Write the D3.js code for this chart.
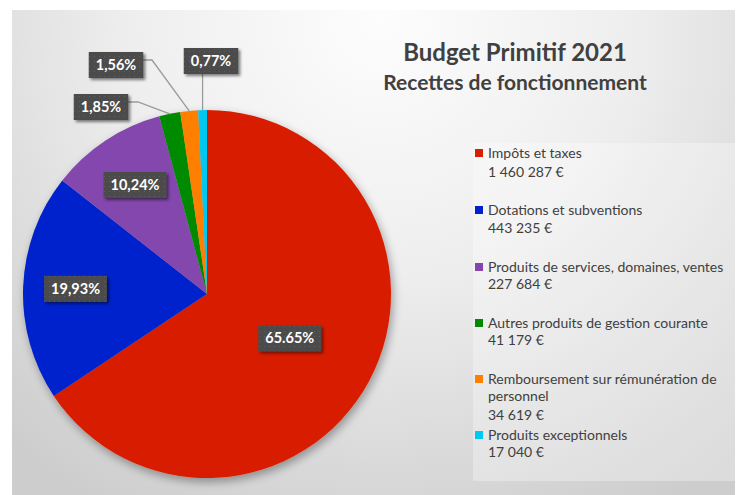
<!DOCTYPE html>
<html>
<head>
<meta charset="utf-8">
<script src="https://cdn.jsdelivr.net/npm/d3@7"></script>
<style>
  body { margin: 0; background: #fff; }
  svg { display: block; font-family: Lato, "Open Sans", sans-serif; }
</style>
</head>
<body>
<svg id="chart" width="739" height="495"></svg>
<script>
// data
var categories = ["Impôts et taxes", "Dotations et subventions", "Produits de services, domaines, ventes",
                  "Autres produits de gestion courante", "Remboursement sur rémunération de personnel",
                  "Produits exceptionnels"];
var amounts = [1460287, 443235, 227684, 41179, 34619, 17040];
var amountLabels = ["1 460 287 €", "443 235 €", "227 684 €", "41 179 €", "34 619 €", "17 040 €"];
var pctLabels = ["65.65%", "19,93%", "10,24%", "1,85%", "1,56%", "0,77%"];
var colors = ["#d81f00", "#0022cc", "#8446ad", "#008a00", "#ff7f00", "#00c8f0"];

var width = 739, height = 495;
var cx = 207, cy = 294, radius = 184;

var svg = d3.select("#chart");
var defs = svg.append("defs");

// background gradient
var bg = defs.append("radialGradient").attr("id", "bg")
    .attr("gradientUnits", "userSpaceOnUse")
    .attr("cx", 380).attr("cy", 20).attr("r", 560);
bg.append("stop").attr("offset", "0%").attr("stop-color", "#fdfdfd");
bg.append("stop").attr("offset", "45%").attr("stop-color", "#eeeeee");
bg.append("stop").attr("offset", "100%").attr("stop-color", "#cdcdcd");

var shadow = defs.append("filter").attr("id", "shadow")
    .attr("x", "-20%").attr("y", "-20%").attr("width", "140%").attr("height", "140%");
shadow.append("feGaussianBlur").attr("in", "SourceAlpha").attr("stdDeviation", 5);
shadow.append("feOffset").attr("dx", 2).attr("dy", 4).attr("result", "b");
shadow.append("feComponentTransfer").append("feFuncA").attr("type", "linear").attr("slope", 0.35);
var m = shadow.append("feMerge");
m.append("feMergeNode");
m.append("feMergeNode").attr("in", "SourceGraphic");

var boxShadow = defs.append("filter").attr("id", "boxShadow")
    .attr("x", "-30%").attr("y", "-30%").attr("width", "160%").attr("height", "180%");
boxShadow.append("feGaussianBlur").attr("in", "SourceAlpha").attr("stdDeviation", 1.5);
boxShadow.append("feOffset").attr("dx", 2).attr("dy", 2).attr("result", "b");
boxShadow.append("feComponentTransfer").append("feFuncA").attr("type", "linear").attr("slope", 0.5);
var m2 = boxShadow.append("feMerge");
m2.append("feMergeNode");
m2.append("feMergeNode").attr("in", "SourceGraphic");

var dots = defs.append("pattern").attr("id", "dots")
    .attr("patternUnits", "userSpaceOnUse").attr("width", 5).attr("height", 5);
dots.append("rect").attr("width", 5).attr("height", 5).attr("fill", "#4b4b4b");
dots.append("rect").attr("x", 2).attr("y", 2).attr("width", 1).attr("height", 1).attr("fill", "#5e5e5e");

svg.append("rect").attr("x", 12).attr("y", 10).attr("width", width - 16).attr("height", height - 10)
    .attr("fill", "url(#bg)");

// legend panel
svg.append("rect").attr("x", 473).attr("y", 143).attr("width", 262).attr("height", 338)
    .attr("fill", "#ffffff").attr("opacity", 0.3);

// title
var title = svg.append("text").attr("text-anchor", "middle").attr("fill", "#404040")
    .attr("font-weight", "bold");
title.append("tspan").attr("x", 515).attr("y", 61).attr("font-size", 24).text("Budget Primitif 2021");
title.append("tspan").attr("x", 515).attr("y", 90).attr("font-size", 21).text("Recettes de fonctionnement");

// pie
var pie = d3.pie().sort(null).value(function(d){ return d; });
var arcs = pie(amounts);
var arc = d3.arc().innerRadius(0).outerRadius(radius);

var g = svg.append("g").attr("transform", "translate(" + cx + "," + cy + ")");
g.append("g").attr("filter", "url(#shadow)")
  .selectAll("path")
  .data(arcs).enter()
  .append("path")
  .attr("d", arc)
  .attr("fill", function(d, i){ return colors[i]; });

// label layout: big slices inside (radius factor), small ones outside with leaders
var labelLayout = [
  { r: 0.51 },
  { r: 0.715 },
  { r: 0.71 },
  { dx: -106, dy: -187, elbow: -69 },
  { dx: -91, dy: -229, elbow: -55 },
  { dx: 4, dy: -233, vertical: true }
];

var boxH = 26;
var labels = g.append("g");
arcs.forEach(function(d, i){
  var lay = labelLayout[i];
  var mid = (d.startAngle + d.endAngle) / 2;
  var px, py;
  if (lay.r !== undefined) {
    px = Math.sin(mid) * radius * lay.r;
    py = -Math.cos(mid) * radius * lay.r;
  } else {
    px = lay.dx; py = lay.dy;
    var ox = Math.sin(mid) * radius, oy = -Math.cos(mid) * radius;
    var pts;
    if (lay.vertical) {
      pts = [[ox, py + boxH / 2], [ox, oy]];
    } else {
      pts = [[px + 27, py - 5], [lay.elbow, py - 5], [ox, oy]];
    }
    labels.append("path").attr("d", d3.line()(pts))
      .attr("fill", "none").attr("stroke", "#9a9a9a").attr("stroke-width", 1.3);
  }
  var t = labels.append("text")
    .attr("x", px).attr("y", py + 5)
    .attr("text-anchor", "middle")
    .attr("font-size", 14.5).attr("font-weight", "bold")
    .attr("fill", "#ffffff")
    .text(pctLabels[i]);
  var w = t.node().getComputedTextLength() + 14;
  labels.insert("rect", "text:last-child")
    .attr("x", px - w / 2).attr("y", py - boxH / 2)
    .attr("width", w).attr("height", boxH)
    .attr("fill", "url(#dots)").attr("filter", "url(#boxShadow)");
  t.raise();
});

// legend
var legendRows = [
  [153, 172],
  [210, 228],
  [267, 284],
  [323, 340],
  [379, 396, 415],
  [435, 452]
];
var legend = svg.append("g").attr("font-size", 14).attr("fill", "#404040");
categories.forEach(function(c, i){
  var rows = legendRows[i];
  legend.append("rect").attr("x", 475).attr("y", rows[0] - 4).attr("width", 8).attr("height", 8)
    .attr("fill", colors[i]);
  var lines = (i === 4) ? ["Remboursement sur rémunération de", "personnel"] : [c];
  lines.push(amountLabels[i]);
  lines.forEach(function(l, j){
    legend.append("text").attr("x", 488).attr("y", rows[j] + 5).text(l);
  });
});
</script>
</body>
</html>
